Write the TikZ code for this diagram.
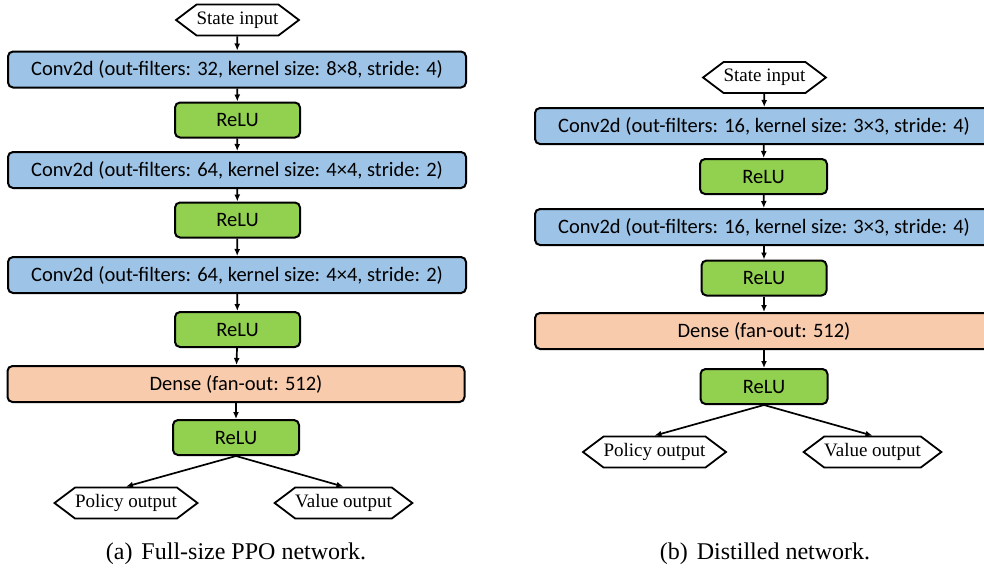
\documentclass[tikz,border=0pt]{standalone}
\usepackage{fontspec}
\setmainfont{Liberation Serif}
\newfontfamily\boxfont{Carlito}
\usetikzlibrary{arrows.meta,shapes.symbols}
\definecolor{convblue}{RGB}{157,195,230}
\definecolor{relugreen}{RGB}{146,208,80}
\definecolor{densepeach}{RGB}{248,203,173}
\tikzset{
  lay/.style={draw=black, line width=2pt, rounded corners=5pt, inner sep=0pt,
    font={\boxfont\fontsize{20.5}{24}\selectfont}},
  conv/.style={lay, fill=convblue, minimum width=458pt, minimum height=36pt},
  relu/.style={lay, fill=relugreen, minimum width=125pt, minimum height=35pt},
  dense/.style={lay, fill=densepeach, minimum width=457pt, minimum height=36pt},
  hexa/.style={signal, signal to=west and east, signal pointer angle=74, draw=black,
    line width=1.8pt, fill=white, inner sep=0pt, minimum height=31pt,
    font={\fontsize{19}{22}\selectfont}},
  arr/.style={-{Latex[length=7pt,width=6pt]}, line width=1.7pt},
  capt/.style={font={\fontsize{24}{28}\selectfont}, inner sep=0pt}
}
\begin{document}
\begin{tikzpicture}[x=1pt,y=-1pt]
\useasboundingbox (0,0) rectangle (984,571);
% ---------- (a) ----------
\node[hexa, minimum width=115pt] (sA) at (237.5,20) {State input};
\node[conv] (cA1) at (237,69.5) {Conv2d (out-filters: 32, kernel size: 8×8, stride: 4)};
\node[relu] (rA1) at (237.5,120) {ReLU};
\node[conv] (cA2) at (237,170) {Conv2d (out-filters: 64, kernel size: 4×4, stride: 2)};
\node[relu] (rA2) at (237.5,220) {ReLU};
\node[conv] (cA3) at (237,275) {Conv2d (out-filters: 64, kernel size: 4×4, stride: 2)};
\node[relu] (rA3) at (237.5,329.5) {ReLU};
\node[dense] (dA) at (236,384) {Dense (fan-out: 512)};
\node[relu, minimum width=126pt] (rA4) at (236,437.5) {ReLU};
\node[hexa, minimum width=136pt] (pA) at (126,503) {Policy output};
\node[hexa, minimum width=135pt] (vA) at (343.5,503) {Value output};
\node[capt] (capA) at (236,554) {(a)\hspace{3pt} Full-size PPO network.};
\draw[arr] (sA) -- (cA1);
\draw[arr] (cA1) -- (rA1);
\draw[arr] (rA1) -- (cA2);
\draw[arr] (cA2) -- (rA2);
\draw[arr] (rA2) -- (cA3);
\draw[arr] (cA3) -- (rA3);
\draw[arr] (rA3) -- (dA);
\draw[arr] (dA) -- (rA4);
\draw[arr] (rA4.south) -- (pA.north);
\draw[arr] (rA4.south) -- (vA.north);
% ---------- (b) ----------
\node[hexa, minimum width=115pt] (sB) at (764.5,77.5) {State input};
\node[conv] (cB1) at (764,126) {Conv2d (out-filters: 16, kernel size: 3×3, stride: 4)};
\node[relu, minimum width=127pt] (rB1) at (763.5,176.5) {ReLU};
\node[conv] (cB2) at (764,227) {Conv2d (out-filters: 16, kernel size: 3×3, stride: 4)};
\node[relu] (rB2) at (764,278) {ReLU};
\node[dense, minimum width=458pt] (dB) at (764,331) {Dense (fan-out: 512)};
\node[relu, minimum width=127pt] (rB3) at (764,386.5) {ReLU};
\node[hexa, minimum width=135pt] (pB) at (654.5,452) {Policy output};
\node[hexa, minimum width=135pt] (vB) at (872.5,452) {Value output};
\node[capt] (capB) at (765,554) {(b)\hspace{3pt} Distilled network.};
\draw[arr] (sB) -- (cB1);
\draw[arr] (cB1) -- (rB1);
\draw[arr] (rB1) -- (cB2);
\draw[arr] (cB2) -- (rB2);
\draw[arr] (rB2) -- (dB);
\draw[arr] (dB) -- (rB3);
\draw[arr] (rB3.south) -- (pB.north);
\draw[arr] (rB3.south) -- (vB.north);
\end{tikzpicture}
\end{document}
